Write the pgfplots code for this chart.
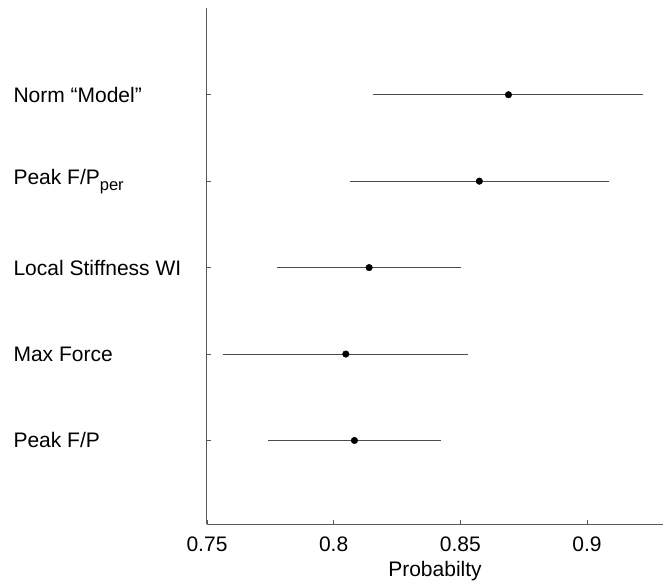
\documentclass[border=0pt]{standalone}
\usepackage{pgfplots}
\pgfplotsset{compat=1.18}
\usepackage{fontspec}
\setmainfont{Liberation Sans}
\usetikzlibrary{calc}
\pgfplotstableread{
x y e
0.8082 1 0.0341
0.8048 2 0.0484
0.8140 3 0.0362
0.8575 4 0.0510
0.8690 5 0.0533
}\datatable
\newcommand{\lblfont}{\fontsize{21bp}{24bp}\selectfont}
\begin{document}
\begin{tikzpicture}
\begin{axis}[
  name=ax,
  scale only axis,
  width=456bp, height=516bp,
  xmin=0.75, xmax=0.93, ymin=0.03, ymax=6,
  axis x line*=bottom, axis y line*=left,
  axis line style={black!65, line width=1bp},
  tick style={black!65, line width=0.8bp},
  tick align=inside,
  major tick length=4bp,
  xtick={0.75,0.8,0.85,0.9},
  xticklabels={0.75,0.8,0.85,0.9},
  ytick={1,2,3,4,5},
  yticklabels={Peak F/P, Max Force, Local Stiffness WI, {Peak F/P\raisebox{-6bp}{\fontsize{16.5bp}{18bp}\selectfont per}}, Norm “Model”},
  tick label style={font=\lblfont},
  yticklabel style={anchor=west, xshift=-197bp},
  xticklabel style={yshift=-9bp},
  xlabel={Probabilty},
  xlabel style={font=\lblfont, yshift=-3bp},
  clip=false,
]
\addplot[only marks, mark=*, mark size=3.3bp, black,
  error bars/.cd, x dir=both, x explicit, error mark=none,
  error bar style={black!70, line width=0.9bp}]
  table[x=x, y=y, x error plus=e, x error minus=e] {\datatable};
\end{axis}
\path ($(ax.south west)+(-207bp,-54bp)$) rectangle ($(ax.north east)+(6bp,8.3bp)$);
\end{tikzpicture}
\end{document}
